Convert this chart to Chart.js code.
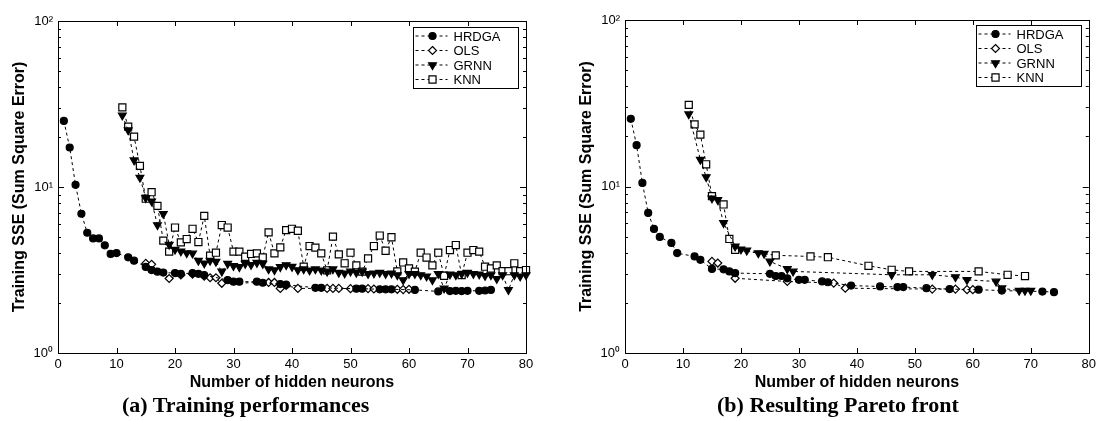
<!DOCTYPE html>
<html>
<head>
<meta charset="utf-8">
<script src="https://cdn.jsdelivr.net/npm/chart.js@4.4.0/dist/chart.umd.min.js"></script>
<style>
  body { margin: 0; background: #fff; width: 1101px; height: 421px; position: relative; overflow: hidden; }
  .panel { position: absolute; top: 0; width: 550px; height: 421px; }
  .cap { position: absolute; top: 392px; line-height: 22px; font: bold 22px "Liberation Serif", "Times New Roman", serif; color: #000; white-space: nowrap; }
</style>
</head>
<body>
<div class="panel" style="left:0"><canvas id="chartA"></canvas></div>
<div class="panel" style="left:550px"><canvas id="chartB"></canvas></div>
<div class="cap" style="left:122px">(a) Training performances</div>
<div class="cap" style="left:717px">(b) Resulting Pareto front</div>
<script>
// (a) training performances
const aHrdgaX = [1, 2, 3, 4, 5, 6, 7, 8, 9, 10, 12, 13, 15, 16, 17, 18, 20, 21, 23, 24, 25, 29, 30, 31, 34, 35, 38, 39, 44, 45, 51, 52, 55, 56, 57, 61, 65, 67, 68, 69, 70, 72, 73, 74];
const aHrdgaY = [25, 17.3, 10.3, 6.9, 5.3, 4.9, 4.9, 4.45, 3.95, 4.0, 3.77, 3.6, 3.3, 3.16, 3.09, 3.05, 3.03, 3.0, 3.03, 3.0, 2.95, 2.75, 2.69, 2.69, 2.69, 2.65, 2.6, 2.58, 2.47, 2.47, 2.44, 2.44, 2.42, 2.42, 2.42, 2.4, 2.35, 2.36, 2.37, 2.36, 2.37, 2.37, 2.38, 2.4];
const aOlsX = [15, 16, 19, 21, 23, 25, 26, 27, 28, 36, 37, 38, 39, 41, 46, 47, 48, 50, 53, 54, 58, 59, 60];
const aOlsY = [3.47, 3.42, 2.81, 2.95, 2.99, 2.9, 2.84, 2.84, 2.63, 2.66, 2.66, 2.45, 2.55, 2.45, 2.45, 2.45, 2.45, 2.44, 2.44, 2.43, 2.42, 2.41, 2.42];
const aGrnnX = [11, 12, 13, 14, 15, 16, 17, 18, 19, 20, 21, 22, 23, 24, 25, 26, 27, 28, 29, 30,
  31, 32, 33, 34, 35, 36, 37, 38, 39, 40, 41, 42, 43, 44, 45, 46, 47, 48, 49, 50,
  51, 52, 53, 54, 55, 56, 57, 58, 59, 60, 61, 62, 63, 64, 65, 66, 67, 68, 69, 70,
  71, 72, 73, 74, 75, 76, 77, 78, 79, 80];
const aGrnnY = [27, 22, 14.5, 11.4, 8.6, 8.2, 5.9, 6.9, 4.5, 4.2, 4.1, 4.0, 3.98, 3.6, 3.47, 3.6, 3.55, 3.1, 3.45, 3.35,
  3.3, 3.45, 3.4, 3.5, 3.45, 3.2, 3.16, 3.3, 3.39, 3.31, 3.16, 3.2, 3.15, 3.2, 3.15, 3.1, 3.2, 3.05, 3.02, 3.1,
  3.05, 3.1, 3.0, 3.02, 3.05, 3.0, 3.02, 2.95, 2.75, 3.0, 3.0, 2.95, 2.9, 2.75, 3.0, 2.45, 2.98, 2.95, 3.0, 3.05,
  3.0, 2.98, 2.92, 2.95, 2.8, 2.95, 2.4, 2.95, 2.9, 2.95];
const aKnnX = [11, 12, 13, 14, 15, 16, 17, 18, 19, 20, 21, 22, 23, 24, 25, 26, 27, 28, 29, 30,
  31, 32, 33, 34, 35, 36, 37, 38, 39, 40, 41, 42, 43, 44, 45, 46, 47, 48, 49, 50,
  51, 52, 53, 54, 55, 56, 57, 58, 59, 60, 61, 62, 63, 64, 65, 66, 67, 68, 69, 70,
  71, 72, 73, 74, 75, 76, 77, 78, 79, 80];
const aKnnY = [30.2, 23.1, 20.1, 13.4, 8.5, 9.3, 7.7, 4.75, 4.08, 5.7, 4.64, 4.86, 5.6, 4.66, 6.7, 3.86, 4.02, 5.9, 5.7, 4.08,
  4.08, 3.8, 3.95, 3.98, 3.77, 5.33, 3.98, 4.33, 5.5, 5.6, 5.45, 3.31, 4.41, 4.31, 3.98, 3.15, 5.02, 3.93, 3.47, 4.02,
  3.37, 3.09, 3.71, 4.41, 5.1, 4.13, 4.98, 3.1, 3.51, 3.23, 3.09, 4.02, 3.76, 3.37, 4.02, 2.92, 4.17, 4.47, 2.95, 4.02,
  4.17, 4.08, 3.31, 3.23, 3.37, 3.11, 3.11, 3.47, 3.11, 3.16];

// (b) resulting pareto front
const bHrdgaX = [1, 2, 3, 4, 5, 6, 8, 9, 12, 13, 15, 17, 18, 19, 25, 26, 27, 28, 30, 31, 34, 35, 39, 44, 47, 48, 52, 56, 61, 65, 72, 74];
const bHrdgaY = [25.5, 17.7, 10.5, 6.94, 5.56, 4.98, 4.58, 3.98, 3.8, 3.63, 3.2, 3.18, 3.09, 3.02, 2.99, 2.9, 2.9, 2.81, 2.75, 2.75, 2.69, 2.66, 2.54, 2.51, 2.49, 2.49, 2.45, 2.42, 2.4, 2.37, 2.34, 2.32];
const bOlsX = [15, 16, 19, 28, 36, 38, 53, 57, 59, 60];
const bOlsY = [3.55, 3.47, 2.81, 2.69, 2.63, 2.45, 2.42, 2.42, 2.4, 2.4];
const bGrnnX = [11, 13, 14, 15, 16, 17, 19, 20, 21, 23, 24, 25, 28, 29, 46, 53, 57, 59, 64, 65, 68, 69, 70];
const bGrnnY = [27.2, 14.5, 11.4, 8.5, 8.3, 6.04, 4.37, 4.2, 4.13, 3.98, 3.95, 3.55, 3.2, 3.09, 2.95, 2.95, 2.86, 2.75, 2.69, 2.45, 2.37, 2.37, 2.37];
const bKnnX = [11, 12, 13, 14, 15, 17, 18, 19, 26, 32, 35, 42, 46, 49, 61, 66, 69];
const bKnnY = [30.9, 23.6, 20.5, 13.6, 8.74, 7.8, 4.84, 4.17, 3.86, 3.8, 3.76, 3.34, 3.16, 3.09, 3.09, 2.95, 2.9];

const seriesNames = ["HRDGA", "OLS", "GRNN", "KNN"];
const yTicks = [1, 2, 3, 4, 5, 6, 7, 8, 9, 10, 20, 30, 40, 50, 60, 70, 80, 90, 100];
const yTickLabels = { 1: "10\u2070", 10: "10\u00b9", 100: "10\u00b2" };

Chart.defaults.font.family = '"Liberation Sans", Arial, sans-serif';
Chart.defaults.color = "#000";

const markers = [
  { pointStyle: "circle", radius: 3.5, rotation: 0, fill: "#000" },
  { pointStyle: "rectRot", radius: 4, rotation: 0, fill: "#fff" },
  { pointStyle: "triangle", radius: 4.5, rotation: 180, fill: "#000" },
  { pointStyle: "rect", radius: 5, rotation: 0, fill: "#fff" },
];

function toPoints(xs, ys) {
  return xs.map((x, i) => ({ x: x, y: ys[i] }));
}

function drawMarker(ctx, m, x, y) {
  ctx.save();
  ctx.fillStyle = m.fill;
  ctx.strokeStyle = "#000";
  ctx.lineWidth = 1.2;
  ctx.setLineDash([]);
  ctx.beginPath();
  const r = m.radius;
  if (m.pointStyle === "circle") {
    ctx.arc(x, y, r, 0, Math.PI * 2);
  } else if (m.pointStyle === "rectRot") {
    ctx.moveTo(x, y - r); ctx.lineTo(x + r, y); ctx.lineTo(x, y + r); ctx.lineTo(x - r, y); ctx.closePath();
  } else if (m.pointStyle === "triangle") {
    ctx.moveTo(x - r * 0.87, y - r * 0.5); ctx.lineTo(x + r * 0.87, y - r * 0.5); ctx.lineTo(x, y + r); ctx.closePath();
  } else {
    const s = r * Math.SQRT1_2;
    ctx.rect(x - s, y - s, 2 * s, 2 * s);
  }
  ctx.fill();
  ctx.stroke();
  ctx.restore();
}

// box, inward ticks and inside legend
const framePlugin = {
  id: "frame",
  afterDraw(chart) {
    const { ctx, chartArea: a, scales } = chart;
    const x = scales.x, y = scales.y;
    ctx.save();
    ctx.strokeStyle = "#000";
    ctx.lineWidth = 1;
    ctx.setLineDash([]);
    ctx.strokeRect(Math.round(a.left) + 0.5, Math.round(a.top) + 0.5, Math.round(a.width), Math.round(a.height));
    ctx.beginPath();
    x.ticks.forEach((t) => {
      const px = Math.round(x.getPixelForValue(t.value)) + 0.5;
      ctx.moveTo(px, a.bottom); ctx.lineTo(px, a.bottom - 5);
      ctx.moveTo(px, a.top); ctx.lineTo(px, a.top + 5);
    });
    y.ticks.forEach((t) => {
      const py = Math.round(y.getPixelForValue(t.value)) + 0.5;
      const len = yTickLabels[t.value] ? 6 : 3;
      ctx.moveTo(a.left, py); ctx.lineTo(a.left + len, py);
      ctx.moveTo(a.right, py); ctx.lineTo(a.right - len, py);
    });
    ctx.stroke();

    const lg = chart.options.plugins.insideLegend;
    const bw = 105, bh = 61;
    const bx = Math.round(a.right - lg.right - bw) + 0.5;
    const by = Math.round(a.top + lg.top) + 0.5;
    ctx.fillStyle = "#fff";
    ctx.fillRect(bx, by, bw, bh);
    ctx.strokeRect(bx, by, bw, bh);
    ctx.font = '13px "Liberation Sans", Arial, sans-serif';
    ctx.textBaseline = "middle";
    seriesNames.forEach((name, i) => {
      const ly = by + 8.5 + i * 14.5;
      ctx.save();
      ctx.setLineDash([3, 3]);
      ctx.beginPath();
      ctx.moveTo(bx + 2, ly); ctx.lineTo(bx + 34, ly);
      ctx.stroke();
      ctx.restore();
      drawMarker(ctx, markers[i], bx + 19, ly);
      ctx.fillStyle = "#000";
      ctx.fillText(name, bx + 40, ly + 1);
    });
    ctx.restore();
  },
};

function makeChart(id, series, padding, legendTop) {
  const datasets = series.map((s, i) => ({
    label: seriesNames[i],
    data: toPoints(s[0], s[1]),
    borderColor: "#000",
    borderWidth: 1,
    borderDash: [3, 3],
    backgroundColor: markers[i].fill,
    pointBackgroundColor: markers[i].fill,
    pointBorderColor: "#000",
    pointBorderWidth: 1.2,
    pointStyle: markers[i].pointStyle,
    pointRadius: markers[i].radius,
    pointRotation: markers[i].rotation,
    fill: false,
    tension: 0,
    clip: false,
  }));

  return new Chart(document.getElementById(id), {
    type: "line",
    data: { datasets: datasets },
    options: {
      responsive: true,
      maintainAspectRatio: false,
      animation: false,
      layout: { padding: padding },
      plugins: {
        legend: { display: false },
        tooltip: { enabled: false },
        insideLegend: { right: 8, top: legendTop },
      },
      scales: {
        x: {
          type: "linear",
          min: 0,
          max: 80,
          grid: { display: false, drawTicks: false },
          border: { display: false },
          ticks: { stepSize: 10, padding: 4, font: { size: 13 }, color: "#000" },
          title: { display: true, text: "Number of hidden neurons", font: { size: 16, weight: "bold" }, color: "#000", padding: { top: 4, bottom: 4 } },
          afterFit: (scale) => { scale.height = 43; },
        },
        y: {
          type: "logarithmic",
          min: 1,
          max: 100,
          grid: { display: false, drawTicks: false },
          border: { display: false },
          afterBuildTicks: (scale) => { scale.ticks = yTicks.map((v) => ({ value: v })); },
          ticks: {
            autoSkip: false,
            padding: 5,
            font: { size: 13 },
            color: "#000",
            callback: (v) => yTickLabels[v] || "",
          },
          title: { display: true, text: "Training SSE (Sum Square Error)", font: { size: 16, weight: "bold" }, color: "#000", padding: { top: 4, bottom: 4 } },
          afterFit: (scale) => { scale.width = 52; },
        },
      },
    },
    plugins: [framePlugin],
  });
}

makeChart("chartA", [[aHrdgaX, aHrdgaY], [aOlsX, aOlsY], [aGrnnX, aGrnnY], [aKnnX, aKnnY]],
  { left: 6, right: 24, top: 21, bottom: 25 }, 6);
makeChart("chartB", [[bHrdgaX, bHrdgaY], [bOlsX, bOlsY], [bGrnnX, bGrnnY], [bKnnX, bKnnY]],
  { left: 23, right: 8, top: 20, bottom: 25 }, 5);
</script>
</body>
</html>
